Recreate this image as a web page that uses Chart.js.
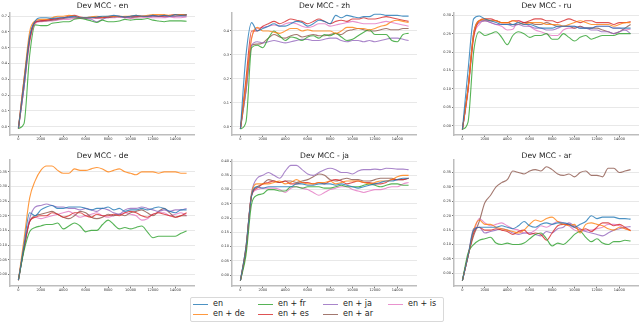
<!DOCTYPE html>
<html>
<head>
<meta charset="utf-8">
<script src="https://cdn.jsdelivr.net/npm/chart.js@4.4.1/dist/chart.umd.min.js"></script>
<style>
  body { margin: 0; background: #fff; width: 640px; height: 323px; position: relative; overflow: hidden; font-family: "DejaVu Sans", sans-serif; }
  canvas { position: absolute; }
  #legend { position: absolute; left: 190px; top: 297px; width: 254px; height: 25px; border: 1px solid #d9d9d9; border-radius: 2px; box-sizing: border-box; }
  .item { position: absolute; height: 10px; font-size: 8px; line-height: 10px; color: #222; white-space: nowrap; }
  .item span { position: absolute; left: 0; top: 5px; width: 15px; height: 1.2px; }
  .item b { position: absolute; left: 20px; top: 0; font-weight: normal; }
</style>
</head>
<body>
<canvas id="c0"></canvas>
<canvas id="c1"></canvas>
<canvas id="c2"></canvas>
<canvas id="c3"></canvas>
<canvas id="c4"></canvas>
<canvas id="c5"></canvas>
<div id="legend"></div>
<script>
// training steps (x) and series
var steps = [0,500,1000,1500,2000,2500,3000,3500,4000,4500,5000,5500,6000,6500,7000,7500,
  8000,8500,9000,9500,10000,10500,11000,11500,12000,12500,13000,13500,14000,14500,15000];
var series = ['en', 'en + de', 'en + fr', 'en + es', 'en + ja', 'en + ar', 'en + is'];
var colors = ['rgba(31,119,180,0.8)', 'rgba(255,127,14,0.8)', 'rgba(44,160,44,0.8)', 'rgba(214,39,40,0.8)',
  'rgba(148,103,189,0.8)', 'rgba(140,86,75,0.8)', 'rgba(227,119,194,0.8)'];
var xTicks = [0,2000,4000,6000,8000,10000,12000,14000];

// dev MCC per target language, rows in the order of `series`
var mccEn = [
  [-0.01,0.28,0.57,0.67,0.69,0.69,0.685,0.69,0.69,0.695,0.70,0.69,0.69,0.69,0.695,0.70,0.70,0.705,0.70,0.695,0.70,0.705,0.70,0.70,0.705,0.70,0.705,0.70,0.71,0.705,0.71],
  [-0.01,0.30,0.60,0.67,0.68,0.68,0.69,0.70,0.70,0.705,0.70,0.69,0.69,0.695,0.70,0.695,0.70,0.70,0.695,0.70,0.70,0.705,0.70,0.705,0.71,0.71,0.71,0.705,0.71,0.71,0.71],
  [-0.01,0.02,0.45,0.645,0.64,0.64,0.655,0.66,0.665,0.665,0.68,0.685,0.68,0.67,0.66,0.675,0.665,0.665,0.67,0.68,0.675,0.68,0.68,0.685,0.675,0.67,0.665,0.67,0.67,0.67,0.668],
  [-0.01,0.30,0.55,0.66,0.67,0.675,0.68,0.685,0.69,0.70,0.705,0.695,0.69,0.69,0.69,0.69,0.695,0.70,0.70,0.695,0.70,0.70,0.70,0.70,0.705,0.70,0.70,0.705,0.71,0.71,0.71],
  [-0.01,0.25,0.56,0.665,0.67,0.675,0.68,0.685,0.69,0.69,0.695,0.69,0.685,0.68,0.665,0.68,0.695,0.70,0.695,0.69,0.695,0.70,0.70,0.695,0.70,0.70,0.695,0.70,0.70,0.70,0.70],
  [-0.01,0.25,0.55,0.665,0.67,0.67,0.675,0.68,0.685,0.69,0.69,0.69,0.69,0.695,0.69,0.69,0.69,0.695,0.70,0.695,0.69,0.695,0.70,0.70,0.70,0.70,0.705,0.70,0.70,0.705,0.705],
  [-0.01,0.25,0.53,0.655,0.665,0.67,0.67,0.675,0.68,0.68,0.685,0.685,0.685,0.69,0.685,0.69,0.69,0.69,0.695,0.69,0.685,0.69,0.69,0.695,0.69,0.69,0.69,0.695,0.69,0.69,0.695]
];
var mccZh = [
  [-0.01,0.30,0.435,0.40,0.41,0.42,0.43,0.42,0.42,0.43,0.44,0.435,0.42,0.43,0.445,0.44,0.43,0.465,0.455,0.465,0.46,0.455,0.46,0.46,0.47,0.47,0.465,0.465,0.465,0.462,0.462],
  [-0.01,0.18,0.37,0.415,0.40,0.40,0.395,0.39,0.40,0.41,0.41,0.40,0.405,0.40,0.40,0.40,0.40,0.39,0.40,0.415,0.415,0.41,0.41,0.405,0.41,0.42,0.425,0.44,0.445,0.44,0.435],
  [-0.01,0.02,0.33,0.34,0.33,0.37,0.40,0.38,0.36,0.375,0.37,0.36,0.375,0.38,0.37,0.385,0.38,0.39,0.375,0.36,0.365,0.38,0.395,0.405,0.385,0.385,0.385,0.36,0.355,0.385,0.39],
  [-0.01,0.20,0.40,0.40,0.42,0.43,0.44,0.43,0.44,0.45,0.445,0.44,0.43,0.44,0.45,0.44,0.43,0.44,0.445,0.44,0.45,0.45,0.455,0.45,0.45,0.455,0.46,0.455,0.45,0.445,0.44],
  [-0.01,0.15,0.34,0.355,0.35,0.355,0.36,0.355,0.35,0.355,0.36,0.365,0.365,0.36,0.36,0.365,0.37,0.37,0.36,0.355,0.36,0.36,0.355,0.36,0.355,0.36,0.365,0.37,0.37,0.365,0.36],
  [-0.01,0.15,0.34,0.345,0.35,0.37,0.385,0.375,0.37,0.38,0.385,0.375,0.38,0.385,0.38,0.38,0.385,0.39,0.385,0.40,0.405,0.41,0.405,0.40,0.40,0.405,0.41,0.405,0.405,0.41,0.41],
  [-0.01,0.18,0.37,0.41,0.415,0.42,0.425,0.42,0.43,0.435,0.43,0.42,0.415,0.42,0.43,0.43,0.42,0.425,0.43,0.435,0.44,0.435,0.43,0.43,0.43,0.435,0.44,0.435,0.43,0.425,0.42]
];
var mccRu = [
  [-0.01,0.15,0.29,0.298,0.29,0.285,0.28,0.275,0.275,0.275,0.28,0.275,0.275,0.27,0.265,0.265,0.265,0.27,0.27,0.27,0.27,0.265,0.265,0.265,0.27,0.27,0.27,0.265,0.265,0.265,0.265],
  [-0.01,0.10,0.25,0.285,0.29,0.285,0.285,0.28,0.28,0.285,0.28,0.275,0.28,0.28,0.28,0.275,0.275,0.275,0.27,0.275,0.28,0.285,0.28,0.275,0.275,0.275,0.275,0.27,0.275,0.28,0.28],
  [-0.01,0.01,0.20,0.255,0.245,0.25,0.255,0.24,0.22,0.245,0.255,0.25,0.24,0.245,0.245,0.25,0.235,0.235,0.25,0.24,0.23,0.24,0.245,0.235,0.24,0.245,0.245,0.245,0.25,0.25,0.25],
  [-0.01,0.10,0.24,0.285,0.29,0.29,0.285,0.28,0.28,0.285,0.285,0.28,0.285,0.29,0.29,0.285,0.285,0.28,0.285,0.29,0.285,0.28,0.285,0.285,0.28,0.28,0.28,0.275,0.28,0.28,0.283],
  [-0.01,0.10,0.25,0.28,0.285,0.28,0.275,0.275,0.275,0.27,0.275,0.27,0.27,0.265,0.265,0.26,0.26,0.265,0.27,0.27,0.27,0.265,0.265,0.26,0.26,0.255,0.255,0.25,0.255,0.26,0.25],
  [-0.01,0.10,0.25,0.285,0.285,0.285,0.285,0.28,0.28,0.275,0.275,0.28,0.28,0.275,0.275,0.28,0.275,0.27,0.27,0.27,0.265,0.27,0.265,0.265,0.265,0.26,0.255,0.25,0.255,0.265,0.275],
  [-0.01,0.09,0.24,0.275,0.285,0.28,0.275,0.27,0.26,0.262,0.285,0.28,0.27,0.26,0.255,0.25,0.245,0.245,0.26,0.265,0.265,0.27,0.265,0.265,0.27,0.27,0.27,0.265,0.265,0.26,0.262]
];
var mccDe = [
  [-0.02,0.10,0.21,0.20,0.22,0.23,0.235,0.225,0.225,0.23,0.23,0.23,0.225,0.22,0.225,0.225,0.23,0.22,0.225,0.215,0.22,0.22,0.225,0.22,0.225,0.23,0.225,0.215,0.21,0.22,0.22],
  [-0.02,0.12,0.26,0.32,0.355,0.37,0.37,0.355,0.345,0.345,0.36,0.355,0.355,0.36,0.365,0.36,0.35,0.355,0.36,0.35,0.345,0.34,0.35,0.35,0.35,0.345,0.35,0.35,0.35,0.345,0.345],
  [-0.02,0.08,0.145,0.16,0.165,0.17,0.17,0.175,0.155,0.165,0.175,0.165,0.145,0.15,0.15,0.17,0.185,0.17,0.155,0.16,0.155,0.16,0.165,0.145,0.125,0.13,0.13,0.13,0.13,0.14,0.148],
  [-0.02,0.09,0.18,0.195,0.20,0.20,0.21,0.205,0.195,0.20,0.21,0.21,0.20,0.195,0.205,0.20,0.20,0.205,0.20,0.21,0.215,0.21,0.20,0.195,0.205,0.21,0.205,0.20,0.195,0.20,0.21],
  [-0.02,0.09,0.19,0.23,0.235,0.24,0.235,0.23,0.23,0.225,0.225,0.22,0.225,0.22,0.215,0.225,0.22,0.21,0.205,0.22,0.225,0.225,0.23,0.225,0.22,0.215,0.22,0.215,0.22,0.22,0.225],
  [-0.02,0.09,0.18,0.20,0.205,0.21,0.215,0.205,0.195,0.19,0.20,0.215,0.21,0.195,0.19,0.195,0.205,0.20,0.205,0.20,0.21,0.215,0.22,0.21,0.20,0.215,0.225,0.21,0.195,0.20,0.20],
  [-0.02,0.09,0.18,0.195,0.19,0.195,0.20,0.205,0.21,0.215,0.205,0.195,0.20,0.205,0.21,0.20,0.195,0.20,0.205,0.21,0.205,0.20,0.185,0.19,0.205,0.21,0.21,0.20,0.205,0.21,0.20]
];
var mccJa = [
  [-0.02,0.10,0.28,0.31,0.305,0.31,0.31,0.31,0.31,0.31,0.32,0.32,0.315,0.315,0.32,0.32,0.32,0.315,0.32,0.315,0.31,0.305,0.31,0.315,0.32,0.325,0.33,0.33,0.335,0.34,0.34],
  [-0.02,0.10,0.285,0.32,0.32,0.32,0.325,0.33,0.32,0.325,0.335,0.325,0.32,0.32,0.325,0.325,0.33,0.32,0.325,0.33,0.33,0.33,0.325,0.32,0.325,0.33,0.33,0.335,0.345,0.35,0.35],
  [-0.02,0.07,0.25,0.28,0.285,0.30,0.30,0.295,0.295,0.31,0.31,0.305,0.31,0.31,0.31,0.305,0.305,0.31,0.315,0.31,0.31,0.31,0.315,0.32,0.315,0.31,0.315,0.32,0.32,0.315,0.315],
  [-0.02,0.09,0.28,0.305,0.32,0.325,0.33,0.325,0.33,0.32,0.32,0.325,0.325,0.32,0.325,0.32,0.33,0.335,0.33,0.32,0.325,0.33,0.325,0.325,0.32,0.32,0.325,0.335,0.335,0.335,0.34],
  [-0.02,0.10,0.29,0.34,0.35,0.36,0.35,0.34,0.365,0.385,0.385,0.37,0.355,0.35,0.36,0.37,0.375,0.37,0.36,0.36,0.355,0.365,0.37,0.37,0.372,0.37,0.375,0.374,0.372,0.372,0.37],
  [-0.02,0.09,0.28,0.31,0.32,0.335,0.33,0.325,0.33,0.33,0.325,0.33,0.335,0.345,0.355,0.35,0.335,0.33,0.335,0.34,0.335,0.335,0.33,0.33,0.335,0.34,0.34,0.34,0.335,0.335,0.34],
  [-0.02,0.09,0.28,0.30,0.305,0.305,0.305,0.30,0.29,0.305,0.31,0.305,0.30,0.29,0.28,0.29,0.30,0.305,0.31,0.31,0.30,0.295,0.29,0.295,0.30,0.30,0.305,0.31,0.31,0.32,0.325]
];
var mccAr = [
  [-0.025,0.06,0.15,0.16,0.16,0.16,0.16,0.165,0.16,0.155,0.165,0.18,0.165,0.16,0.17,0.175,0.17,0.175,0.175,0.17,0.16,0.17,0.18,0.20,0.19,0.195,0.195,0.195,0.19,0.19,0.188],
  [-0.025,0.06,0.15,0.185,0.17,0.17,0.16,0.155,0.15,0.145,0.14,0.15,0.17,0.185,0.18,0.19,0.195,0.18,0.17,0.165,0.17,0.14,0.17,0.175,0.17,0.165,0.155,0.15,0.16,0.155,0.148],
  [-0.025,0.07,0.10,0.115,0.12,0.125,0.105,0.10,0.105,0.10,0.10,0.105,0.12,0.135,0.14,0.12,0.095,0.105,0.10,0.115,0.135,0.145,0.125,0.11,0.12,0.105,0.10,0.11,0.11,0.115,0.112],
  [-0.025,0.06,0.14,0.16,0.15,0.15,0.155,0.15,0.145,0.135,0.145,0.15,0.135,0.14,0.135,0.115,0.14,0.165,0.17,0.17,0.16,0.15,0.155,0.145,0.16,0.175,0.175,0.165,0.17,0.16,0.148],
  [-0.025,0.06,0.155,0.16,0.14,0.145,0.15,0.155,0.15,0.14,0.135,0.14,0.14,0.135,0.13,0.145,0.14,0.155,0.16,0.175,0.165,0.155,0.145,0.14,0.135,0.13,0.14,0.15,0.155,0.16,0.162],
  [-0.025,0.06,0.13,0.18,0.245,0.27,0.30,0.315,0.325,0.355,0.35,0.345,0.355,0.36,0.355,0.37,0.36,0.345,0.34,0.345,0.335,0.35,0.355,0.34,0.34,0.335,0.365,0.365,0.35,0.355,0.36],
  [-0.025,0.06,0.14,0.19,0.175,0.165,0.17,0.175,0.165,0.155,0.15,0.14,0.14,0.15,0.165,0.16,0.17,0.18,0.175,0.165,0.15,0.145,0.15,0.15,0.155,0.16,0.17,0.17,0.165,0.155,0.15]
];

var yTicksTenth = [0, 0.1, 0.2, 0.3, 0.4, 0.5, 0.6, 0.7];
var yTicksTwentieth = [0, 0.05, 0.1, 0.15, 0.2, 0.25, 0.3, 0.35, 0.4];

var FONT = '"DejaVu Sans", sans-serif';

// canvas box: left, top, width, height, y-axis width, title bottom padding
function makeChart(id, box, title, values, yMin, yMax, yTicks, digits) {
  var canvas = document.getElementById(id);
  canvas.style.left = box[0] + 'px';
  canvas.style.top = box[1] + 'px';
  canvas.width = box[2];
  canvas.height = box[3];
  var yw = box[4];

  var datasets = series.map(function (name, i) {
    return {
      label: name,
      data: values[i].map(function (v, j) { return { x: steps[j], y: v }; }),
      borderColor: colors[i],
      borderWidth: 1.1,
      pointRadius: 0,
      fill: false,
      cubicInterpolationMode: 'monotone'
    };
  });

  return new Chart(canvas.getContext('2d'), {
    type: 'line',
    data: { datasets: datasets },
    options: {
      responsive: false,
      animation: false,
      layout: { padding: 0, autoPadding: false },
      plugins: {
        legend: { display: false },
        tooltip: { enabled: false },
        title: {
          display: true,
          text: title,
          fullSize: false,
          color: '#1a1a1a',
          font: { family: FONT, size: 7.6, weight: 'normal', lineHeight: 1.2 },
          padding: { top: 1, bottom: box[5] }
        }
      },
      scales: {
        x: {
          type: 'linear',
          min: -750,
          max: 15750,
          afterBuildTicks: function (s) { s.ticks = xTicks.map(function (v) { return { value: v }; }); },
          afterFit: function (s) { s.height = 10; },
          grid: { drawOnChartArea: false, tickLength: 2, tickColor: '#777' },
          border: { color: '#bdbdbd', width: 1.5 },
          ticks: {
            font: { family: FONT, size: 3.5 }, color: '#333', padding: 0, maxRotation: 0, autoSkip: false,
            callback: function (v) { return String(v); }
          }
        },
        y: {
          min: yMin,
          max: yMax,
          afterBuildTicks: function (s) {
            s.ticks = yTicks.filter(function (v) { return v <= yMax; }).map(function (v) { return { value: v }; });
          },
          afterFit: function (s) { s.width = yw; },
          grid: { color: '#e8e8e8', lineWidth: 1, tickLength: 2, tickColor: '#777' },
          border: { color: '#bdbdbd', width: 1.5 },
          ticks: {
            font: { family: FONT, size: 3.5 }, color: '#333', padding: 1,
            callback: function (v) { return Number(v).toFixed(digits); }
          }
        }
      }
    }
  });
}

makeChart('c0', [0, 0, 195, 145, 10, 2.9], 'Dev MCC - en', mccEn, -0.052, 0.72, yTicksTenth, 1);
makeChart('c1', [220, 0, 197, 145, 12, 2.9], 'Dev MCC - zh', mccZh, -0.035, 0.475, yTicksTenth, 1);
makeChart('c2', [434, 0, 205, 145, 20, 2.9], 'Dev MCC - ru', mccRu, -0.025, 0.306, yTicksTwentieth, 2);
makeChart('c3', [0, 150, 195, 146, 10, 0], 'Dev MCC - de', mccDe, -0.04, 0.39, yTicksTwentieth, 2);
makeChart('c4', [218, 150, 199, 146, 14, 0], 'Dev MCC - ja', mccJa, -0.0386, 0.4035, yTicksTwentieth, 2);
makeChart('c5', [438, 150, 201, 146, 16, 0], 'Dev MCC - ar', mccAr, -0.044, 0.393, yTicksTwentieth, 2);

// shared legend, column-major like the original (4 columns x 2 rows)
var legend = document.getElementById('legend');
series.forEach(function (name, i) {
  var col = Math.floor(i / 2), row = i % 2;
  var item = document.createElement('div');
  item.className = 'item';
  item.style.left = (2 + col * 65) + 'px';
  item.style.top = (1 + row * 10) + 'px';
  item.innerHTML = '<span style="background:' + colors[i] + '"></span><b>' + name + '</b>';
  legend.appendChild(item);
});
</script>
</body>
</html>
